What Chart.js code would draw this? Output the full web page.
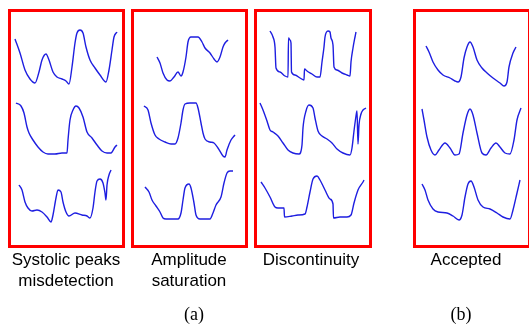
<!DOCTYPE html>
<html lang="en">
<head>
    <meta charset="UTF-8">
    <title>PPG segment quality examples</title>
    <script src="https://cdn.jsdelivr.net/npm/chart.js"></script>
    <style>
        body {
            margin: 0;
            width: 529px;
            height: 331px;
            overflow: hidden;
            background-color: white;
            position: relative;
            font-family: Arial, "Liberation Sans", sans-serif;
        }
        .box {
            position: absolute;
            top: 9px;
            height: 239px;
            box-sizing: border-box;
            border: 3px solid #ff0000;
        }
        canvas {
            position: absolute;
        }
        .label {
            position: absolute;
            top: 249px;
            width: 140px;
            margin-left: -70px;
            text-align: center;
            font-size: 17px;
            line-height: 21px;
            color: #000;
        }
        .caption {
            position: absolute;
            top: 304px;
            width: 40px;
            margin-left: -20px;
            text-align: center;
            font-family: "Times New Roman", "Liberation Serif", serif;
            font-size: 18px;
            line-height: 20px;
            color: #000;
        }
    </style>
</head>
<body>
    <script>
        // Class names under each group of examples
        const panelTitles = ['Systolic peaks\nmisdetection', 'Amplitude\nsaturation', 'Discontinuity', 'Accepted'];
        const groupCaptions = ['(a)', '(b)'];

        // Each trace: [sample, amplitude] pairs
        const misdetect1 = [[5,53],[10,39],[15,22],[20,13],[25,9],[29,20],[32,32],[36,38],[39,32],[43,20],[47,15],[52,13],[56,11],[59,8],[62,25],[65,49],[67,59],[70,62],[73,59],[76,45],[80,32],[85,24],[90,17],[96,10],[99,22],[102,42],[104,55],[107,60]];
        const misdetect2 = [[6,62],[11,59],[14,52],[17,38],[19,32],[23,25],[28,18],[33,13],[38,11],[45,11],[52,12],[57,12],[58,25],[60,45],[63,55],[66,59],[69,57],[73,48],[77,33],[82,27],[87,20],[92,14],[97,12],[101,12],[105,18],[107,20]];
        const misdetect3 = [[9,48],[12,43],[15,31],[18,25],[22,22],[27,23],[32,21],[37,16],[41,11],[43,18],[46,35],[48,43],[51,41],[53,31],[56,21],[59,17],[65,20],[72,18],[77,17],[80,15],[83,25],[85,41],[87,52],[90,54],[93,50],[95,40],[96,33],[97,48],[99,58],[101,63]];

        const saturation1 = [[23,35],[26,29],[29,19],[33,12],[36,11],[40,15],[44,20],[47,16],[49,20],[52,35],[54,50],[57,55],[64,55],[68,50],[71,44],[76,39],[80,33],[83,30],[86,35],[89,45],[91,49],[94,52]];
        const saturation2 = [[10,59],[14,55],[17,42],[21,30],[25,26],[31,23],[37,21],[41,21],[44,27],[47,42],[49,55],[51,61],[56,62],[62,62],[64,57],[67,42],[69,32],[71,26],[76,23],[80,22],[84,17],[89,9],[91,8],[93,15],[97,25],[101,30]];
        const saturation3 = [[11,46],[15,41],[18,33],[22,27],[26,21],[29,15],[32,14],[44,14],[47,20],[49,33],[51,45],[55,49],[57,45],[60,30],[62,18],[66,14],[76,14],[79,20],[82,28],[87,36],[90,50],[93,60],[96,62],[99,62]];

        const discont1 = [[13,61],[16,55],[18,45],[19,24],[23,20],[28,16],[31,15],[31.5,54],[33,52],[34,49],[34.5,20],[38,17],[43,14],[47,12],[47.5,23],[50,21],[55,18],[60,15],[63,15],[65,30],[67,45],[68,55],[71,61],[73,60],[74,54],[76,47],[77,25],[80,22],[85,19],[90,17],[93,16],[94,30],[96,44],[98,55],[99,60]];
        const discont2 = [[3,62],[6,55],[10,44],[13,35],[16,33],[21,29],[26,22],[31,15],[36,12],[42,11],[45,20],[46,37],[49,54],[52,60],[56,57],[58,47],[61,34],[65,29],[70,26],[75,22],[80,16],[86,12],[93,10],[95,17],[97,34],[99,49],[100,54],[101,21],[102,40],[104,51],[106,55],[109,57]];
        const discont3 = [[4,51],[8,45],[13,36],[18,26],[21,25],[27,25],[27.5,16],[35,17],[41,18],[48,19],[50,26],[53,41],[56,54],[60,57],[63,53],[68,43],[73,34],[76,29],[76.5,15],[83,16],[90,16],[94,18],[97,30],[101,43],[106,51],[107,53]];

        const accepted1 = [[10,46],[13,40],[17,30],[22,22],[27,17],[34,14],[39,11],[42,10],[45,15],[48,34],[51,45],[54,50],[57,45],[61,32],[66,24],[71,19],[77,14],[84,9],[88,6],[91,10],[93,25],[97,39],[100,45]];
        const accepted2 = [[6,56],[8,45],[11,28],[15,15],[19,10],[23,15],[29,22],[34,17],[39,10],[43,11],[47,32],[51,50],[54,56],[57,50],[61,32],[66,12],[70,10],[75,17],[80,22],[84,18],[89,12],[94,11],[98,25],[101,45],[105,57]];
        const accepted3 = [[6,49],[9,43],[12,33],[17,24],[22,21],[31,20],[37,17],[43,13],[46,18],[49,36],[52,49],[55,52],[58,46],[62,33],[67,26],[74,24],[81,20],[87,16],[94,14],[97,23],[101,40],[104,53]];

        const panelTraces = [
            [misdetect1, misdetect2, misdetect3],
            [saturation1, saturation2, saturation3],
            [discont1, discont2, discont3],
            [accepted1, accepted2, accepted3]
        ];

        // layout
        const boxLeft = [8, 131, 254, 413];
        const boxWidth = [117, 117, 118, 118];
        const traceLeft = [10, 134, 257, 416];
        const rowTop = [22, 95, 163];
        const labelCenter = [66, 189, 311, 466];
        const captionCenter = [194, 461];
        const TRACE_W = 112, TRACE_H = 70;

        function addTrace(points, left, top) {
            const canvas = document.createElement('canvas');
            canvas.width = TRACE_W;
            canvas.height = TRACE_H;
            canvas.style.left = left + 'px';
            canvas.style.top = top + 'px';
            document.body.appendChild(canvas);

            new Chart(canvas.getContext('2d'), {
                type: 'line',
                data: {
                    datasets: [{
                        data: points.map(p => ({ x: p[0], y: p[1] })),
                        borderColor: '#1e1ee0',
                        borderWidth: 1.4,
                        pointRadius: 0,
                        cubicInterpolationMode: 'monotone',
                        fill: false,
                        clip: false
                    }]
                },
                options: {
                    responsive: false,
                    animation: false,
                    layout: { padding: 0 },
                    plugins: { legend: { display: false }, tooltip: { enabled: false } },
                    scales: {
                        x: { type: 'linear', min: 0, max: TRACE_W, display: false },
                        y: { type: 'linear', min: 0, max: TRACE_H, display: false }
                    }
                }
            });
        }

        panelTraces.forEach((traces, i) => {
            const box = document.createElement('div');
            box.className = 'box';
            box.style.left = boxLeft[i] + 'px';
            box.style.width = boxWidth[i] + 'px';
            document.body.appendChild(box);

            traces.forEach((t, r) => addTrace(t, traceLeft[i], rowTop[r]));

            const label = document.createElement('div');
            label.className = 'label';
            label.style.left = labelCenter[i] + 'px';
            label.innerHTML = panelTitles[i].replace('\n', '<br>');
            document.body.appendChild(label);
        });

        groupCaptions.forEach((c, i) => {
            const cap = document.createElement('div');
            cap.className = 'caption';
            cap.style.left = captionCenter[i] + 'px';
            cap.textContent = c;
            document.body.appendChild(cap);
        });
    </script>
</body>
</html>
